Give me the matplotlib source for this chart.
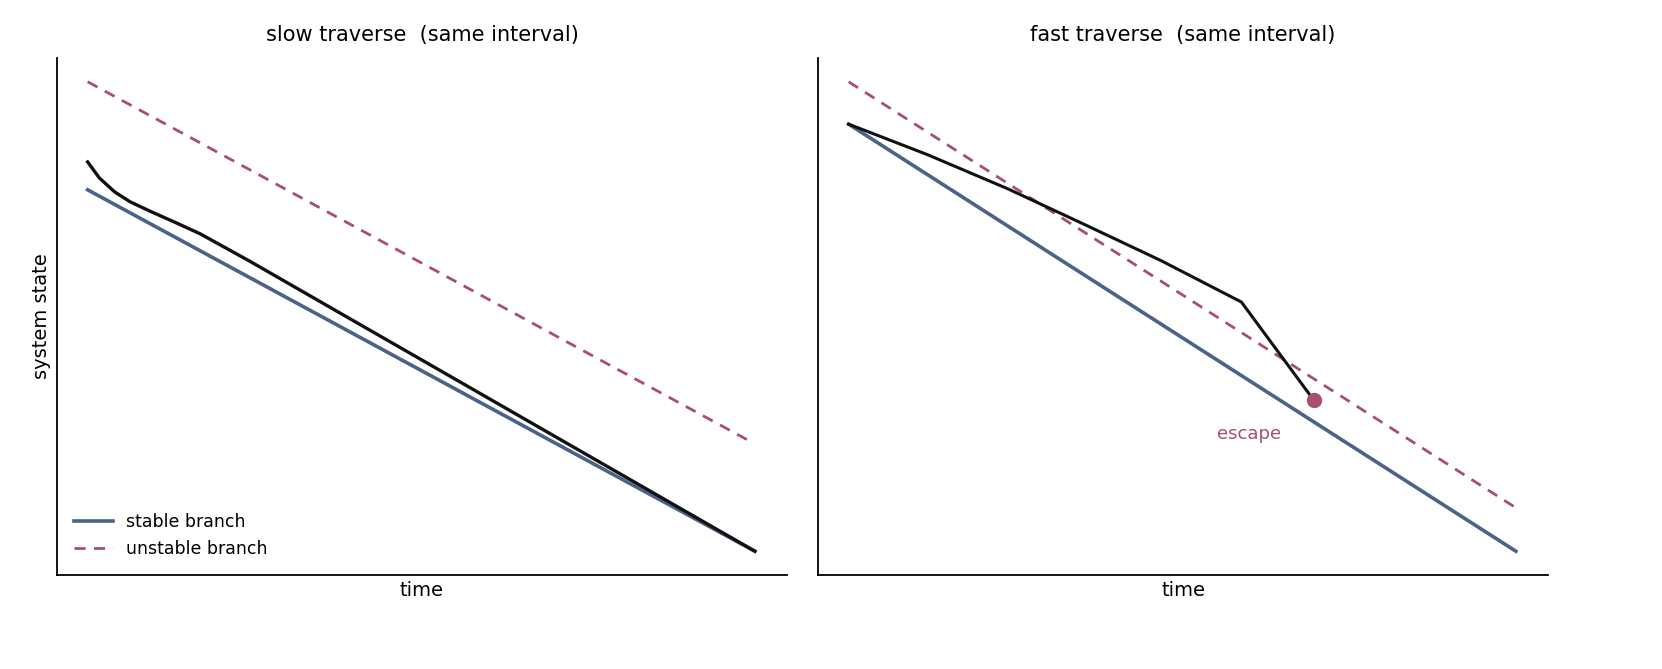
import matplotlib
matplotlib.use("Agg")
import matplotlib.pyplot as plt

BLUE = "#4a6388"
RED = "#a84f6d"

# left panel (slow traverse), axis fractions
slow_stable_x = [0.042, 0.956]
slow_stable_y = [0.745, 0.046]
slow_unstable_x = [0.042, 0.949]
slow_unstable_y = [0.954, 0.259]
slow_traj_x = [0.042, 0.058, 0.079, 0.100, 0.127, 0.162, 0.196, 0.264, 0.956]
slow_traj_y = [0.799, 0.768, 0.741, 0.722, 0.704, 0.682, 0.660, 0.607, 0.046]

# right panel (fast traverse)
fast_stable_x = [0.042, 0.956]
fast_stable_y = [0.872, 0.046]
fast_unstable_x = [0.042, 0.956]
fast_unstable_y = [0.954, 0.130]
fast_traj_x = [0.042, 0.150, 0.260, 0.359, 0.470, 0.580, 0.674]
fast_traj_y = [0.872, 0.813, 0.747, 0.682, 0.608, 0.528, 0.348]
escape_x, escape_y = 0.679, 0.338

fig = plt.figure(figsize=(16.62, 6.69), dpi=100)
axL = fig.add_axes([57/1662, 1-575/669, 730/1662, 517/669])
axR = fig.add_axes([818/1662, 1-575/669, 730/1662, 517/669])

for ax in (axL, axR):
    ax.set_xlim(0, 1); ax.set_ylim(0, 1)
    ax.set_xticks([]); ax.set_yticks([])
    for s in ("top", "right"):
        ax.spines[s].set_visible(False)
    ax.spines["left"].set_linewidth(1.3)
    ax.spines["bottom"].set_linewidth(1.3)
    ax.set_xlabel("time", fontsize=14)

axL.plot(slow_stable_x, slow_stable_y, color=BLUE, lw=2.6, label="stable branch")
axL.plot(slow_unstable_x, slow_unstable_y, color=RED, lw=2, ls=(0, (4, 3)), label="unstable branch")
axL.plot(slow_traj_x, slow_traj_y, color="#111111", lw=2.4)
axL.set_ylabel("system state", fontsize=14)
axL.set_title("slow traverse  (same interval)", fontsize=15, pad=12)
axL.legend(loc="lower left", frameon=False, fontsize=12.5, handlelength=2.2, borderaxespad=0.6)

axR.plot(fast_stable_x, fast_stable_y, color=BLUE, lw=2.6)
axR.plot(fast_unstable_x, fast_unstable_y, color=RED, lw=2, ls=(0, (4, 3)))
axR.plot(fast_traj_x, fast_traj_y, color="#111111", lw=2.2)
axR.plot([escape_x], [escape_y], "o", color=RED, ms=10)
axR.text(escape_x - 0.088, escape_y - 0.075, "escape", color=RED, fontsize=13, ha="center")
axR.set_title("fast traverse  (same interval)", fontsize=15, pad=12)

fig.savefig("out.png", dpi=100)
